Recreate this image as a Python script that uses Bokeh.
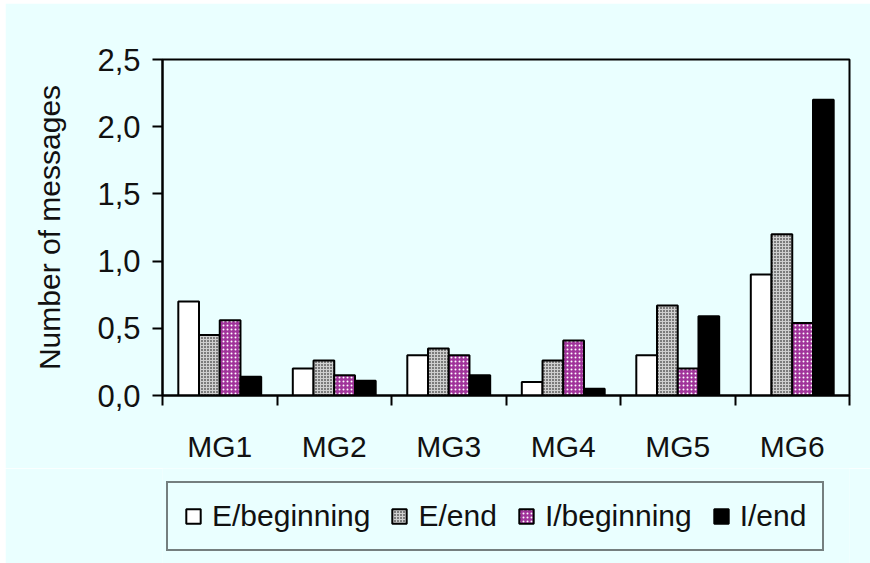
from bokeh.plotting import figure
from bokeh.layouts import column
from bokeh.models import FixedTicker, Legend, LegendItem, ColumnDataSource, Range1d
from bokeh.embed import file_html
from bokeh.resources import INLINE

categories = ["MG1", "MG2", "MG3", "MG4", "MG5", "MG6"]
series_names = ["E/beginning", "E/end", "I/beginning", "I/end"]
e_beginning = [0.70, 0.20, 0.30, 0.10, 0.30, 0.90]
e_end = [0.45, 0.26, 0.35, 0.26, 0.67, 1.20]
i_beginning = [0.56, 0.15, 0.30, 0.41, 0.20, 0.54]
i_end = [0.14, 0.11, 0.15, 0.05, 0.59, 2.20]
y_ticks = [0, 0.5, 1.0, 1.5, 2.0, 2.5]
y_tick_labels = ["0,0", "0,5", "1,0", "1,5", "2,0", "2,5"]

series_values = [e_beginning, e_end, i_beginning, i_end]
styles = [
    dict(fill_color="white"),
    dict(fill_color="#CFCFCF", hatch_pattern="dot", hatch_color="black", hatch_scale=3),
    dict(fill_color="#A0339A", hatch_pattern="dot", hatch_color="white", hatch_scale=4),
    dict(fill_color="black"),
]

BG = "#EAFFFF"
FONT = "Liberation Sans"
W = 865

n = len(categories)
p = figure(width=W, height=465, output_backend="svg", toolbar_location=None,
           x_range=Range1d(0, n), y_range=Range1d(0, 2.5),
           min_border_left=157, min_border_right=21, min_border_top=56, min_border_bottom=73)
p.background_fill_color = BG
p.border_fill_color = BG
p.outline_line_color = "black"
p.outline_line_width = 2
p.xgrid.visible = False
p.ygrid.visible = False

bw = 0.181
for k, (vals, st) in enumerate(zip(series_values, styles)):
    xs = [i + 0.5 + (k - 1.5) * bw for i in range(n)]
    src = ColumnDataSource(dict(x=xs, top=vals))
    p.vbar(x="x", top="top", bottom=0, width=bw, source=src,
           line_color="black", line_width=2, **st)

# x axis: labels at centres, ticks at category boundaries
centres = [i + 0.5 for i in range(n)]
xa = p.xaxis[0]
xa.ticker = FixedTicker(ticks=centres, minor_ticks=list(range(n + 1)))
xa.major_label_overrides = {c: lab for c, lab in zip(centres, categories)}
xa.major_tick_out = 0
xa.major_tick_in = 0
xa.minor_tick_out = 10
xa.minor_tick_in = 0
xa.minor_tick_line_color = "black"
xa.minor_tick_line_width = 2
xa.axis_line_width = 2
xa.axis_line_color = "black"
xa.major_label_text_font = FONT
xa.major_label_text_font_size = "30px"
xa.major_label_text_color = "#111111"
xa.major_label_standoff = 24

ya = p.yaxis[0]
ya.ticker = FixedTicker(ticks=y_ticks, minor_ticks=[])
ya.major_label_overrides = {t: lab for t, lab in zip(y_ticks, y_tick_labels)}
ya.major_tick_out = 10
ya.major_tick_in = 0
ya.major_tick_line_width = 2
ya.axis_line_width = 2
ya.major_label_text_font = FONT
ya.major_label_text_font_size = "31px"
ya.major_label_text_color = "#111111"
ya.major_label_standoff = 12
ya.axis_label = "Number of messages"
ya.axis_label_text_font = FONT
ya.axis_label_text_font_size = "30px"
ya.axis_label_text_font_style = "normal"
ya.axis_label_text_color = "#111111"
ya.axis_label_standoff = 28

# legend strip below the chart (its frame aligns with the chart's frame)
lf = figure(width=W, height=95, output_backend="svg", toolbar_location=None,
            x_range=Range1d(0, 1), y_range=Range1d(0, 1),
            x_axis_type=None, y_axis_type=None,
            min_border_left=157, min_border_right=21, min_border_top=0, min_border_bottom=0)
lf.background_fill_color = BG
lf.border_fill_color = BG
lf.outline_line_color = None
lf.xgrid.visible = False
lf.ygrid.visible = False
items = []
for nm, st in zip(series_names, styles):
    # one invisible (NaN) bar so that the legend swatch is drawn
    r = lf.vbar(x=[0.5], top=[float("nan")], bottom=0, width=bw,
                line_color="black", line_width=2, **st)
    items.append(LegendItem(label=nm, renderers=[r]))

legend = Legend(items=items, orientation="horizontal", location=(4, 12),
                glyph_width=18, glyph_height=18, label_standoff=10, spacing=20,
                padding=16, margin=0,
                label_text_font=FONT, label_text_font_size="30px", label_text_color="#111111",
                border_line_color="black", border_line_width=2,
                background_fill_color=BG, background_fill_alpha=1.0)
lf.add_layout(legend)

layout = column(p, lf, spacing=0, margin=(3, 0, 0, 5))
open("out.html", "w").write(file_html(layout, INLINE))
